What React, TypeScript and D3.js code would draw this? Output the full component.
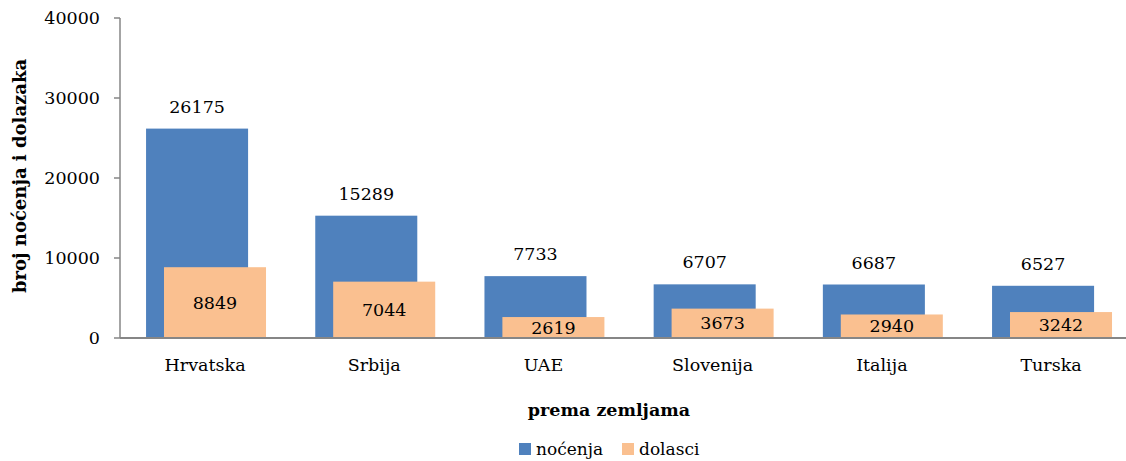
import React, { useRef, useEffect } from 'react';
import * as d3 from 'd3';

const categories = ['Hrvatska', 'Srbija', 'UAE', 'Slovenija', 'Italija', 'Turska'];
const nocenja = [26175, 15289, 7733, 6707, 6687, 6527];
const dolasci = [8849, 7044, 2619, 3673, 2940, 3242];
const yTicks = [0, 10000, 20000, 30000, 40000];

const FONT = "'DejaVu Serif', serif";
const BLUE = '#4F81BD';
const ORANGE = '#FAC090';
const AXIS = '#868686';

const App: React.FC = () => {
  const svgRef = useRef<SVGSVGElement | null>(null);
  const width = 1126;
  const height = 461;

  useEffect(() => {
    if (!svgRef.current) return;
    const svg = d3.select(svgRef.current);
    svg.selectAll('*').remove();

    const left = 120;
    const top = 18;
    const bottom = 338;
    const fs = 17.5;

    const x = d3.scaleBand<string>()
      .domain(categories)
      .range([left, left + 6 * 169.2])
      .padding(0);
    const y = d3.scaleLinear().domain([0, 40000]).range([bottom, top]);
    const bw = x.bandwidth();
    const barW = bw * 0.603;
    const blueOff = bw * 0.154;
    const orangeOff = bw * 0.26;

    const data = categories.map((c, i) => ({ c, n: nocenja[i], d: dolasci[i] }));

    // y axis
    svg.append('line')
      .attr('x1', left).attr('x2', left)
      .attr('y1', top).attr('y2', bottom)
      .attr('stroke', AXIS).attr('stroke-width', 1.5);

    svg.selectAll('.ytick')
      .data(yTicks)
      .enter()
      .append('line')
      .attr('x1', left - 6).attr('x2', left)
      .attr('y1', d => y(d)).attr('y2', d => y(d))
      .attr('stroke', AXIS).attr('stroke-width', 1.5);

    svg.selectAll('.ylabel')
      .data(yTicks)
      .enter()
      .append('text')
      .attr('x', left - 20)
      .attr('y', d => y(d))
      .attr('dy', '0.35em')
      .attr('text-anchor', 'end')
      .attr('font-family', FONT)
      .attr('font-size', fs)
      .attr('fill', '#000')
      .text(d => String(d));

    // blue bars
    svg.selectAll('.nbar')
      .data(data)
      .enter()
      .append('rect')
      .attr('x', d => x(d.c)! + blueOff)
      .attr('y', d => y(d.n))
      .attr('width', barW)
      .attr('height', d => bottom - y(d.n))
      .attr('fill', BLUE);

    // orange bars
    svg.selectAll('.dbar')
      .data(data)
      .enter()
      .append('rect')
      .attr('x', d => x(d.c)! + orangeOff)
      .attr('y', d => y(d.d))
      .attr('width', barW)
      .attr('height', d => bottom - y(d.d))
      .attr('fill', ORANGE);

    // x axis
    svg.append('line')
      .attr('x1', left).attr('x2', left + 6 * 169.2)
      .attr('y1', bottom).attr('y2', bottom)
      .attr('stroke', AXIS).attr('stroke-width', 2);

    // value labels
    svg.selectAll('.nlabel')
      .data(data)
      .enter()
      .append('text')
      .attr('x', d => x(d.c)! + blueOff + barW / 2)
      .attr('y', d => y(d.n) - 22)
      .attr('dy', '0.35em')
      .attr('text-anchor', 'middle')
      .attr('font-family', FONT)
      .attr('font-size', fs)
      .text(d => String(d.n));

    svg.selectAll('.dlabel')
      .data(data)
      .enter()
      .append('text')
      .attr('x', d => x(d.c)! + orangeOff + barW / 2)
      .attr('y', d => (y(d.d) + bottom) / 2)
      .attr('dy', '0.35em')
      .attr('text-anchor', 'middle')
      .attr('font-family', FONT)
      .attr('font-size', fs)
      .text(d => String(d.d));

    // category labels
    svg.selectAll('.clabel')
      .data(data)
      .enter()
      .append('text')
      .attr('x', d => x(d.c)! + blueOff + barW / 2 + 8)
      .attr('y', 365)
      .attr('dy', '0.35em')
      .attr('text-anchor', 'middle')
      .attr('font-family', FONT)
      .attr('font-size', fs)
      .text(d => d.c);

    // axis titles
    svg.append('text')
      .attr('transform', `translate(20,176) rotate(-90)`)
      .attr('dy', '0.35em')
      .attr('text-anchor', 'middle')
      .attr('font-family', FONT)
      .attr('font-weight', 'bold')
      .attr('font-size', 18)
      .text('broj noćenja i dolazaka');

    svg.append('text')
      .attr('x', 609)
      .attr('y', 410)
      .attr('dy', '0.35em')
      .attr('text-anchor', 'middle')
      .attr('font-family', FONT)
      .attr('font-weight', 'bold')
      .attr('font-size', fs)
      .text('prema zemljama');

    // legend
    const legendItems = [
      { label: 'noćenja', color: BLUE, x: 519 },
      { label: 'dolasci', color: ORANGE, x: 622 },
    ];
    legendItems.forEach(item => {
      svg.append('rect')
        .attr('x', item.x)
        .attr('y', 443)
        .attr('width', 12)
        .attr('height', 12)
        .attr('fill', item.color);
      svg.append('text')
        .attr('x', item.x + 17)
        .attr('y', 449)
        .attr('dy', '0.35em')
        .attr('font-family', FONT)
        .attr('font-size', 17)
        .text(item.label);
    });
  }, []);

  return (
    <svg
      ref={svgRef}
      width={width}
      height={height}
      style={{ position: 'absolute', left: 0, top: 0, background: '#fff' }}
    />
  );
};

export default App;
